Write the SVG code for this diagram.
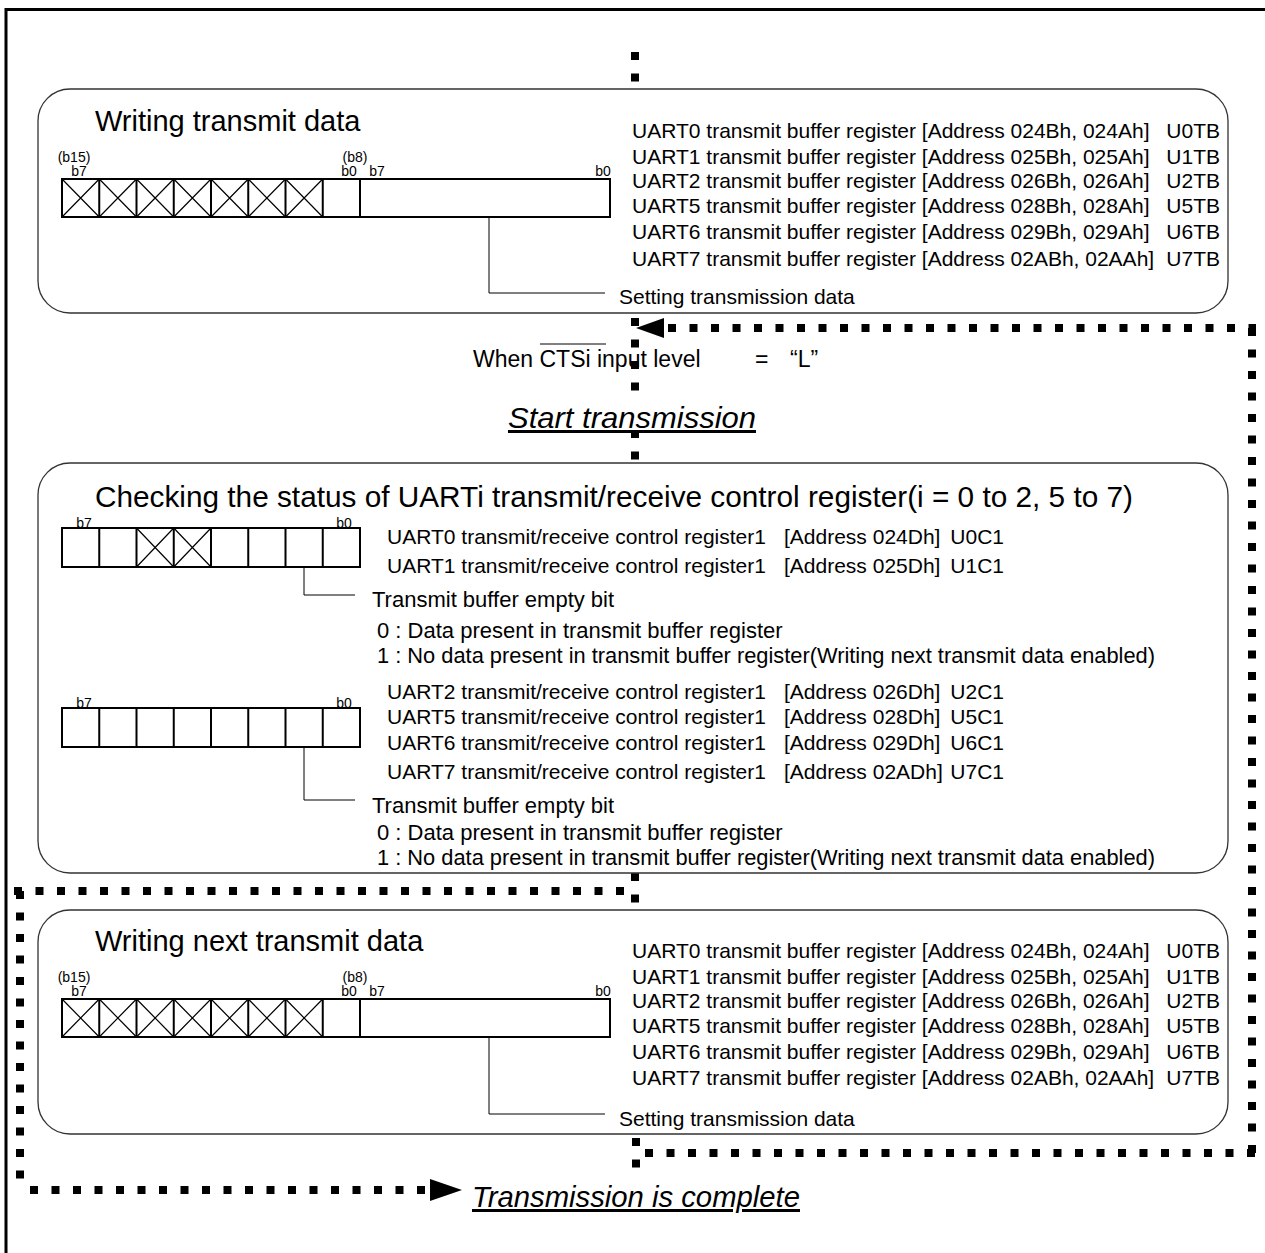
<svg xmlns="http://www.w3.org/2000/svg" width="1265" height="1253" viewBox="0 0 1265 1253">
<style>
text{font-family:"Liberation Sans",Arial,sans-serif;fill:#000}
.t{font-size:29px}
.r{font-size:21px}
.q{font-size:22px}
.s{font-size:14px}
.it{font-size:30px;font-style:italic;text-decoration:underline}
.box{fill:none;stroke:#333;stroke-width:1.3}
.reg{fill:#fff;stroke:#000;stroke-width:2}
.x{stroke:#000;stroke-width:1.2;fill:none}
.lead{stroke:#000;stroke-width:1;fill:none}
.dot{stroke:#000;stroke-width:8;fill:none;stroke-dasharray:8 13.5}
.ah{fill:#000}
</style>
<defs>
<g id="xcell"><path class="x" d="M0,0 L37.25,38 M37.25,0 L0,38"/></g>
</defs>
<path d="M6,1253 V9.5 H1265" fill="none" stroke="#000" stroke-width="3"/>

<g id="connectors">
<path class="dot" d="M635,52 V86"/>
<path class="dot" d="M635,318 V398"/>
<path class="dot" d="M635,430 V462"/>
<path class="dot" d="M668,328 H1256"/>
<polygon class="ah" points="636,328 664,318 664,338"/>
<path class="dot" d="M1252,328 V1157"/>
<path class="dot" d="M635,873 V904"/>
<path class="dot" d="M14,891 H630"/>
<path class="dot" d="M20,891 V1190"/>
<path class="dot" d="M30,1190 H428"/>
<polygon class="ah" points="462,1190 430,1179 430,1201"/>
<path class="dot" d="M636,1138 V1170"/>
<path class="dot" d="M645,1153 H1256"/>
</g>

<g id="node-write">
<rect class="box" x="38" y="89" width="1190" height="224" rx="32"/>
<text class="t" x="95" y="131">Writing transmit data</text>
<rect class="reg" x="62" y="179" width="548" height="38"/>
<path class="reg" d="M99.25,179 V217 M136.5,179 V217 M173.75,179 V217 M211,179 V217 M248.25,179 V217 M285.5,179 V217 M322.75,179 V217 M360,179 V217"/>
<use href="#xcell" x="62" y="179"/><use href="#xcell" x="99.25" y="179"/><use href="#xcell" x="136.5" y="179"/><use href="#xcell" x="173.75" y="179"/><use href="#xcell" x="211" y="179"/><use href="#xcell" x="248.25" y="179"/><use href="#xcell" x="285.5" y="179"/>
<text class="s" x="74" y="162" text-anchor="middle">(b15)</text>
<text class="s" x="79" y="176" text-anchor="middle">b7</text>
<text class="s" x="355" y="162" text-anchor="middle">(b8)</text>
<text class="s" x="349" y="176" text-anchor="middle">b0</text>
<text class="s" x="377" y="176" text-anchor="middle">b7</text>
<text class="s" x="603" y="176" text-anchor="middle">b0</text>
<path class="lead" d="M489,217 V293 H605"/>
<text class="r" x="619" y="304">Setting transmission data</text>
<text class="r" x="632" y="138">UART0 transmit buffer register [Address 024Bh, 024Ah]</text><text class="r" x="1220" y="138" text-anchor="end">U0TB</text>
<text class="r" x="632" y="164">UART1 transmit buffer register [Address 025Bh, 025Ah]</text><text class="r" x="1220" y="164" text-anchor="end">U1TB</text>
<text class="r" x="632" y="188">UART2 transmit buffer register [Address 026Bh, 026Ah]</text><text class="r" x="1220" y="188" text-anchor="end">U2TB</text>
<text class="r" x="632" y="213">UART5 transmit buffer register [Address 028Bh, 028Ah]</text><text class="r" x="1220" y="213" text-anchor="end">U5TB</text>
<text class="r" x="632" y="239">UART6 transmit buffer register [Address 029Bh, 029Ah]</text><text class="r" x="1220" y="239" text-anchor="end">U6TB</text>
<text class="r" x="632" y="266">UART7 transmit buffer register [Address 02ABh, 02AAh]</text><text class="r" x="1220" y="266" text-anchor="end">U7TB</text>
</g>

<g id="node-cts">
<text x="473" y="367" style="font-size:23px">When CTSi input level</text>
<line x1="540" y1="344" x2="606" y2="344" stroke="#000" stroke-width="1"/>
<text x="755" y="367" style="font-size:23px">=</text>
<text x="790" y="367" style="font-size:23px">“L”</text>
</g>

<g id="node-start">
<text class="it" x="508" y="428" textLength="248" lengthAdjust="spacingAndGlyphs">Start transmission</text>
</g>

<g id="node-check">
<rect class="box" x="38" y="463" width="1190" height="410" rx="32"/>
<text class="t" x="95" y="507" textLength="1038" lengthAdjust="spacingAndGlyphs">Checking the status of UARTi transmit/receive control register(i = 0 to 2, 5 to 7)</text>
<rect class="reg" x="62" y="528" width="298" height="39"/>
<path class="reg" d="M99.25,528 V567 M136.5,528 V567 M173.75,528 V567 M211,528 V567 M248.25,528 V567 M285.5,528 V567 M322.75,528 V567"/>
<path class="x" d="M136.5,528 L173.75,567 M173.75,528 L136.5,567 M173.75,528 L211,567 M211,528 L173.75,567"/>
<text class="s" x="84" y="528" text-anchor="middle">b7</text>
<text class="s" x="344" y="528" text-anchor="middle">b0</text>
<path class="lead" d="M304,567 V595 H355"/>
<text class="r" x="387" y="544">UART0 transmit/receive control register1</text><text class="r" x="784" y="544">[Address 024Dh]</text><text class="r" x="1004" y="544" text-anchor="end">U0C1</text>
<text class="r" x="387" y="573">UART1 transmit/receive control register1</text><text class="r" x="784" y="573">[Address 025Dh]</text><text class="r" x="1004" y="573" text-anchor="end">U1C1</text>
<text class="q" x="372" y="607">Transmit buffer empty bit</text>
<text class="q" x="377" y="638">0 : Data present in transmit buffer register</text>
<text class="q" x="377" y="663" textLength="778" lengthAdjust="spacingAndGlyphs">1 : No data present in transmit buffer register(Writing next transmit data enabled)</text>
<rect class="reg" x="62" y="708" width="298" height="39"/>
<path class="reg" d="M99.25,708 V747 M136.5,708 V747 M173.75,708 V747 M211,708 V747 M248.25,708 V747 M285.5,708 V747 M322.75,708 V747"/>
<text class="s" x="84" y="708" text-anchor="middle">b7</text>
<text class="s" x="344" y="708" text-anchor="middle">b0</text>
<path class="lead" d="M304,747 V800 H355"/>
<text class="r" x="387" y="699">UART2 transmit/receive control register1</text><text class="r" x="784" y="699">[Address 026Dh]</text><text class="r" x="1004" y="699" text-anchor="end">U2C1</text>
<text class="r" x="387" y="724">UART5 transmit/receive control register1</text><text class="r" x="784" y="724">[Address 028Dh]</text><text class="r" x="1004" y="724" text-anchor="end">U5C1</text>
<text class="r" x="387" y="750">UART6 transmit/receive control register1</text><text class="r" x="784" y="750">[Address 029Dh]</text><text class="r" x="1004" y="750" text-anchor="end">U6C1</text>
<text class="r" x="387" y="779">UART7 transmit/receive control register1</text><text class="r" x="784" y="779">[Address 02ADh]</text><text class="r" x="1004" y="779" text-anchor="end">U7C1</text>
<text class="q" x="372" y="813">Transmit buffer empty bit</text>
<text class="q" x="377" y="840">0 : Data present in transmit buffer register</text>
<text class="q" x="377" y="865" textLength="778" lengthAdjust="spacingAndGlyphs">1 : No data present in transmit buffer register(Writing next transmit data enabled)</text>
</g>

<g id="node-writenext">
<rect class="box" x="38" y="910" width="1190" height="224" rx="32"/>
<text class="t" x="95" y="951">Writing next transmit data</text>
<rect class="reg" x="62" y="999" width="548" height="38"/>
<path class="reg" d="M99.25,999 V1037 M136.5,999 V1037 M173.75,999 V1037 M211,999 V1037 M248.25,999 V1037 M285.5,999 V1037 M322.75,999 V1037 M360,999 V1037"/>
<use href="#xcell" x="62" y="999"/><use href="#xcell" x="99.25" y="999"/><use href="#xcell" x="136.5" y="999"/><use href="#xcell" x="173.75" y="999"/><use href="#xcell" x="211" y="999"/><use href="#xcell" x="248.25" y="999"/><use href="#xcell" x="285.5" y="999"/>
<text class="s" x="74" y="982" text-anchor="middle">(b15)</text>
<text class="s" x="79" y="996" text-anchor="middle">b7</text>
<text class="s" x="355" y="982" text-anchor="middle">(b8)</text>
<text class="s" x="349" y="996" text-anchor="middle">b0</text>
<text class="s" x="377" y="996" text-anchor="middle">b7</text>
<text class="s" x="603" y="996" text-anchor="middle">b0</text>
<path class="lead" d="M489,1037 V1114 H605"/>
<text class="r" x="619" y="1126">Setting transmission data</text>
<text class="r" x="632" y="958">UART0 transmit buffer register [Address 024Bh, 024Ah]</text><text class="r" x="1220" y="958" text-anchor="end">U0TB</text>
<text class="r" x="632" y="984">UART1 transmit buffer register [Address 025Bh, 025Ah]</text><text class="r" x="1220" y="984" text-anchor="end">U1TB</text>
<text class="r" x="632" y="1008">UART2 transmit buffer register [Address 026Bh, 026Ah]</text><text class="r" x="1220" y="1008" text-anchor="end">U2TB</text>
<text class="r" x="632" y="1033">UART5 transmit buffer register [Address 028Bh, 028Ah]</text><text class="r" x="1220" y="1033" text-anchor="end">U5TB</text>
<text class="r" x="632" y="1059">UART6 transmit buffer register [Address 029Bh, 029Ah]</text><text class="r" x="1220" y="1059" text-anchor="end">U6TB</text>
<text class="r" x="632" y="1085">UART7 transmit buffer register [Address 02ABh, 02AAh]</text><text class="r" x="1220" y="1085" text-anchor="end">U7TB</text>
</g>

<g id="node-complete">
<text class="it" x="472" y="1207" textLength="328" lengthAdjust="spacingAndGlyphs">Transmission is complete</text>
</g>
</svg>
